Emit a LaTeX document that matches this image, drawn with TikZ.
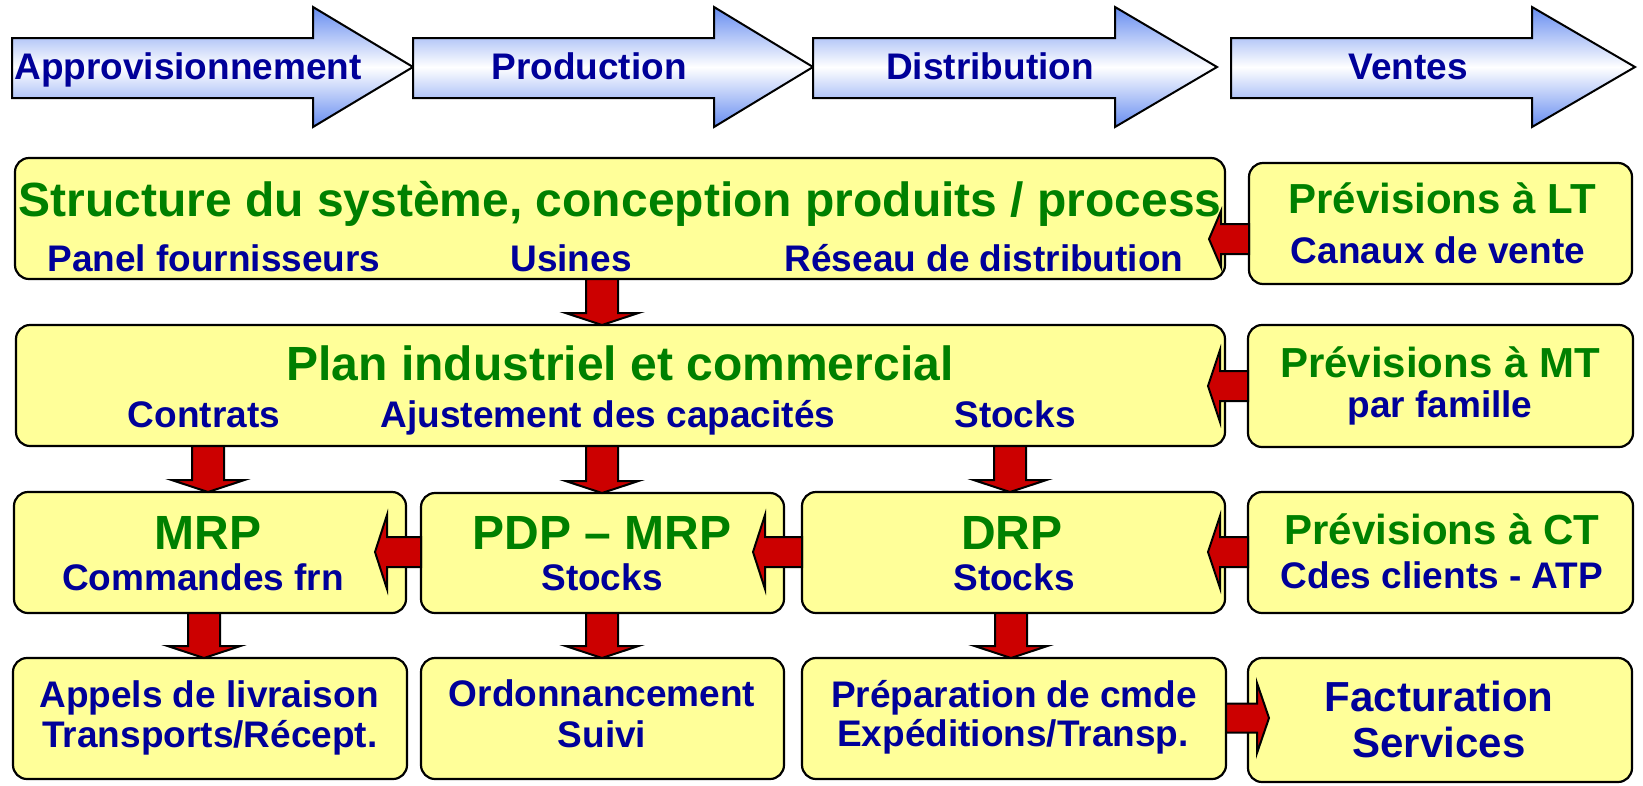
\documentclass[tikz,border=0pt]{standalone}
\usepackage{fontspec}
\setmainfont{Liberation Sans}
\usetikzlibrary{calc}
\definecolor{boxyellow}{RGB}{255,255,153}
\definecolor{tgreen}{RGB}{0,128,0}
\definecolor{tblue}{RGB}{0,0,153}
\definecolor{ared}{RGB}{204,0,0}
\definecolor{phaseblue}{RGB}{102,140,240}
\tikzset{
  box/.style={draw=black, line width=2.2pt, fill=boxyellow, rounded corners=14pt, inner sep=0pt, outer sep=0pt},
  gbig/.style={text=tgreen, font=\fontsize{48}{50}\selectfont\bfseries, inner sep=0pt, anchor=base},
  gmid/.style={text=tgreen, font=\fontsize{42}{45}\selectfont\bfseries, inner sep=0pt, anchor=base},
  blab/.style={text=tblue, font=\fontsize{37}{40}\selectfont\bfseries, inner sep=0pt, anchor=base},
  bmid/.style={text=tblue, font=\fontsize{42}{45}\selectfont\bfseries, inner sep=0pt, anchor=base},
  redarr/.style={draw=black, line width=2pt, fill=ared},
  phase/.style={draw=black, line width=2pt, top color=phaseblue, bottom color=phaseblue, middle color=white}
}
\newcommand\DownArr[3]{%
  \draw[redarr] let \p1=(#1.south), \p2=(#2.north) in
    (#3pt-16pt,\y1) -- (#3pt+16pt,\y1) -- (#3pt+16pt,\y2+12pt) -- (#3pt+36.5pt,\y2+12pt)
    -- (#3pt,\y2) -- (#3pt-36.5pt,\y2+12pt) -- (#3pt-16pt,\y2+12pt) -- cycle;
}
\newcommand\LeftArr[5]{%
  \draw[redarr] let \p1=(#1.west |- 0,#3), \p2=(#2.east |- 0,#3) in
    (\x1,\y1+15pt) -- (\x2-#4pt+12pt,\y1+15pt) -- (\x2-#4pt+12pt,\y1+#5pt) -- (\x2-#4pt,\y1)
    -- (\x2-#4pt+12pt,\y1-#5pt) -- (\x2-#4pt+12pt,\y1-15pt) -- (\x1,\y1-15pt) -- cycle;
}
\newcommand\RightArr[5]{%
  \draw[redarr] let \p1=(#1.east |- 0,#3), \p2=(#2.west |- 0,#3) in
    (\x1,\y1+14.5pt) -- (\x2+#4pt-12pt,\y1+14.5pt) -- (\x2+#4pt-12pt,\y1+#5pt) -- (\x2+#4pt,\y1)
    -- (\x2+#4pt-12pt,\y1-#5pt) -- (\x2+#4pt-12pt,\y1-14.5pt) -- (\x1,\y1-14.5pt) -- cycle;
}
\begin{document}
\begin{tikzpicture}[x=1pt,y=-1pt]
\fill[white] (0,0) rectangle (1643,785);
\useasboundingbox (0,0) rectangle (1643,785);

% phase arrows
\draw[phase] (12,38) -- (313,38) -- (313,7) -- (413,67) -- (313,127) -- (313,98) -- (12,98) -- cycle;
\draw[phase] (413,38) -- (714,38) -- (714,7) -- (813,67) -- (714,127) -- (714,98) -- (413,98) -- cycle;
\draw[phase] (813,38) -- (1115,38) -- (1115,7) -- (1217,67) -- (1115,127) -- (1115,98) -- (813,98) -- cycle;
\draw[phase] (1231,38) -- (1532,38) -- (1532,7) -- (1635,67) -- (1532,127) -- (1532,98) -- (1231,98) -- cycle;
\node[blab] (ph1) at (188,79) {Approvisionnement};
\node[blab] (ph2) at (589,79) {Production};
\node[blab] (ph3) at (990,79) {Distribution};
\node[blab] (ph4) at (1408,79) {Ventes};

% boxes
\node[box, minimum width=1210pt, minimum height=121pt] (struct) at (620,218.5) {};
\node[box, minimum width=383pt, minimum height=121pt] (lt) at (1440.5,223.5) {};
\node[box, minimum width=1209pt, minimum height=121pt] (plan) at (620.5,385.5) {};
\node[box, minimum width=385pt, minimum height=122pt] (mt) at (1440.5,386) {};
\node[box, minimum width=392pt, minimum height=121pt] (mrp) at (210,552.5) {};
\node[box, minimum width=363pt, minimum height=120pt] (pdp) at (602.5,553) {};
\node[box, minimum width=423pt, minimum height=121pt] (drp) at (1013.5,552.5) {};
\node[box, minimum width=385pt, minimum height=121pt] (ct) at (1440.5,552.5) {};
\node[box, minimum width=394pt, minimum height=121pt] (appels) at (210,718.5) {};
\node[box, minimum width=363pt, minimum height=121pt] (ordo) at (602.5,718.5) {};
\node[box, minimum width=424pt, minimum height=121pt] (prep) at (1014,718.5) {};
\node[box, minimum width=384pt, minimum height=124pt] (fact) at (1440,720) {};

% texts
\node[gbig] (t1) at (620,216) {Structure du système, conception produits / process};
\node[blab] (t1a) at (214,271) {Panel fournisseurs};
\node[blab] (t1b) at (571,271) {Usines};
\node[blab] (t1c) at (984,271) {Réseau de distribution};
\node[gmid] (t2) at (1442,213) {Prévisions à LT};
\node[blab] (t2a) at (1438,263) {Canaux de vente};

\node[gbig] (t3) at (620,380) {Plan industriel et commercial};
\node[blab] (t3a) at (204,427) {Contrats};
\node[blab] (t3b) at (608,427) {Ajustement des capacités};
\node[blab] (t3c) at (1015,427) {Stocks};
\node[gmid] (t4) at (1440,377) {Prévisions à MT};
\node[blab] (t4a) at (1440,417) {par famille};

\node[gbig] (t5) at (208,549) {MRP};
\node[blab] (t5a) at (203,590) {Commandes frn};
\node[gbig] (t6) at (602,549) {PDP – MRP};
\node[blab] (t6a) at (602,590) {Stocks};
\node[gbig] (t7) at (1012,549) {DRP};
\node[blab] (t7a) at (1014,590) {Stocks};
\node[gmid] (t8) at (1442,544) {Prévisions à CT};
\node[blab] (t8a) at (1442,588) {Cdes clients - ATP};

\node[blab] (t9) at (209,707) {Appels de livraison};
\node[blab] (t9a) at (210,747) {Transports/Récept.};
\node[blab] (t10) at (602,706) {Ordonnancement};
\node[blab] (t10a) at (602,747) {Suivi};
\node[blab] (t11) at (1014,707) {Préparation de cmde};
\node[blab] (t11a) at (1013,746) {Expéditions/Transp.};
\node[bmid] (t12) at (1439,711) {Facturation};
\node[bmid] (t12a) at (1439,757) {Services};

% red block arrows
\DownArr{struct}{plan}{602}
\DownArr{plan}{mrp}{208}
\DownArr{plan}{pdp}{602}
\DownArr{plan}{drp}{1010}
\DownArr{mrp}{appels}{204}
\DownArr{pdp}{ordo}{602}
\DownArr{drp}{prep}{1011}
\LeftArr{lt}{struct}{239}{16}{28}
\LeftArr{mt}{plan}{386}{17}{36}
\LeftArr{ct}{drp}{552}{17}{36}
\LeftArr{drp}{pdp}{552}{31}{37}
\LeftArr{pdp}{mrp}{552}{31}{37}
\RightArr{prep}{fact}{718}{21}{35}
\end{tikzpicture}
\end{document}
